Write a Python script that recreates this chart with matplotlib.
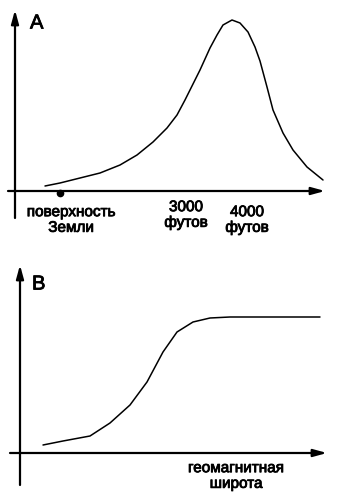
import numpy as np
import matplotlib.pyplot as plt
import matplotlib.patheffects as pe

plt.rcParams['font.family'] = ['Liberation Sans', 'DejaVu Sans']

# panel A: intensity vs altitude
alt_x = [30, 45, 65, 85, 105, 122, 138, 152, 162, 170, 175, 185, 195,
         202, 208, 217, 225, 233, 240, 245, 252, 258, 268, 278, 292, 308]
alt_y = [5, 8, 13, 18, 26, 36, 49, 63, 76, 91, 101, 121, 143,
         156, 166, 171, 168, 159, 144, 130, 104, 81, 58, 41, 24, 11]
surface_x = 45
alt_labels = [("поверхность\nЗемли", 56, -29), ("3000\nфутов", 171, -24), ("4000\nфутов", 232, -29)]

# panel B: intensity vs geomagnetic latitude
lat_x = [23, 43, 70, 90, 110, 127, 143, 157, 173, 190, 210, 300]
lat_y = [8, 12, 17, 30, 48, 71, 101, 121, 131, 135, 136, 136]

fig = plt.figure(figsize=(3.37, 5.0), dpi=100)
axA = fig.add_axes([0, 260 / 500, 1, 240 / 500])
axB = fig.add_axes([0, 0, 1, 250 / 500])
axA.set_xlim(-15, 322)
axA.set_ylim(-49, 191)
axB.set_xlim(-20, 317)
axB.set_ylim(-47, 203)

arrow = dict(arrowstyle='-|>,head_length=0.8,head_width=0.22', lw=1.6, color='black',
             shrinkA=0, shrinkB=0)
thick = [pe.withStroke(linewidth=0.6, foreground='black')]


def draw_axes(ax, xr, yr):
    ax.annotate('', xy=(xr[1], 0), xytext=(xr[0], 0), arrowprops=arrow)
    ax.annotate('', xy=(0, yr[1]), xytext=(0, yr[0]), arrowprops=arrow)
    ax.axis('off')


def label(ax, x, y, s, size=11, **kw):
    ax.text(x, y, s, fontsize=size, linespacing=1.15, path_effects=thick, **kw)


draw_axes(axA, (-7, 310), (-27, 181))
axA.plot(alt_x, alt_y, color='black', lw=1.1, solid_joinstyle='round', solid_capstyle='round')
axA.plot([surface_x], [-2], 'o', color='black', ms=4.5)
label(axA, 15, 168, "A", size=14.5, va='center', ha='left')
for txt, x, y in alt_labels:
    label(axA, x, y, txt, ha='center', va='center')

draw_axes(axB, (-10, 307), (-32, 188))
axB.plot(lat_x, lat_y, color='black', lw=1.1, solid_joinstyle='round', solid_capstyle='round')
label(axB, 12, 169, "B", size=14.5, va='center', ha='left')
label(axB, 216, -23, "геомагнитная\nширота", ha='center', va='center')

fig.savefig("out.png", dpi=100)
